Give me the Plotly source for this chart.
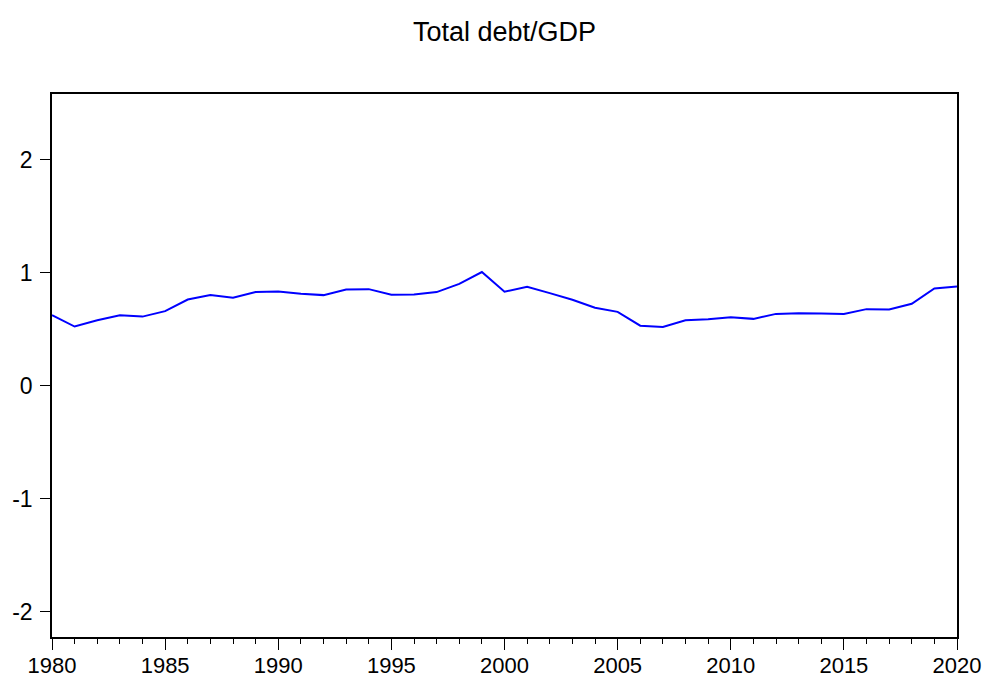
import plotly.graph_objects as go

years = list(range(1980, 2021))
debt_gdp = [0.622, 0.522, 0.578, 0.622, 0.610, 0.658, 0.761, 0.800, 0.776, 0.827,
            0.833, 0.812, 0.800, 0.849, 0.853, 0.803, 0.806, 0.827, 0.900, 1.004,
            0.830, 0.874, 0.818, 0.759, 0.688, 0.652, 0.530, 0.518, 0.578, 0.587,
            0.604, 0.590, 0.634, 0.640, 0.637, 0.634, 0.676, 0.673, 0.723, 0.859,
            0.877]
y_ticks = [-2, -1, 0, 1, 2]
y_tick_labels = ["-2", "-1", "0", "1", "2"]
x_ticks = [1980, 1985, 1990, 1995, 2000, 2005, 2010, 2015, 2020]
title_text = "Total debt/GDP"

fig = go.Figure()
fig.add_trace(go.Scatter(x=years, y=debt_gdp, mode="lines",
                         line=dict(color="#0000FF", width=2), showlegend=False))

font_family = "Liberation Sans, Arial, sans-serif"
fig.update_layout(
    width=987, height=677,
    margin=dict(l=52, r=30, t=94, b=40),
    paper_bgcolor="white", plot_bgcolor="white",
    font=dict(family=font_family, color="black", size=23),
    title=dict(text=title_text, x=0.5, xref="paper", xanchor="center",
               y=1 - 32 / 677, yref="container", yanchor="middle",
               font=dict(size=27, family=font_family, color="black")),
)
fig.update_xaxes(range=[1980, 2020], tickvals=x_ticks, ticks="outside", ticklen=11,
                 tickwidth=1, tickcolor="black", showgrid=False, zeroline=False,
                 showline=True, linecolor="black", linewidth=1.5, mirror=True,
                 automargin=False, ticklabelstandoff=-3,
                 minor=dict(dtick=1, tick0=1980, ticks="outside", ticklen=5,
                            tickcolor="black", tickwidth=1, showgrid=False),
                 tickfont=dict(size=22))
fig.update_yaxes(range=[-2.224, 2.579], tickvals=y_ticks, ticktext=y_tick_labels,
                 ticks="outside", ticklen=10,
                 tickwidth=1, tickcolor="black", showgrid=False, zeroline=False,
                 showline=True, linecolor="black", linewidth=1.5, mirror=True,
                 automargin=False, ticklabelstandoff=3, tickfont=dict(size=23))
fig.write_html("out.html")
